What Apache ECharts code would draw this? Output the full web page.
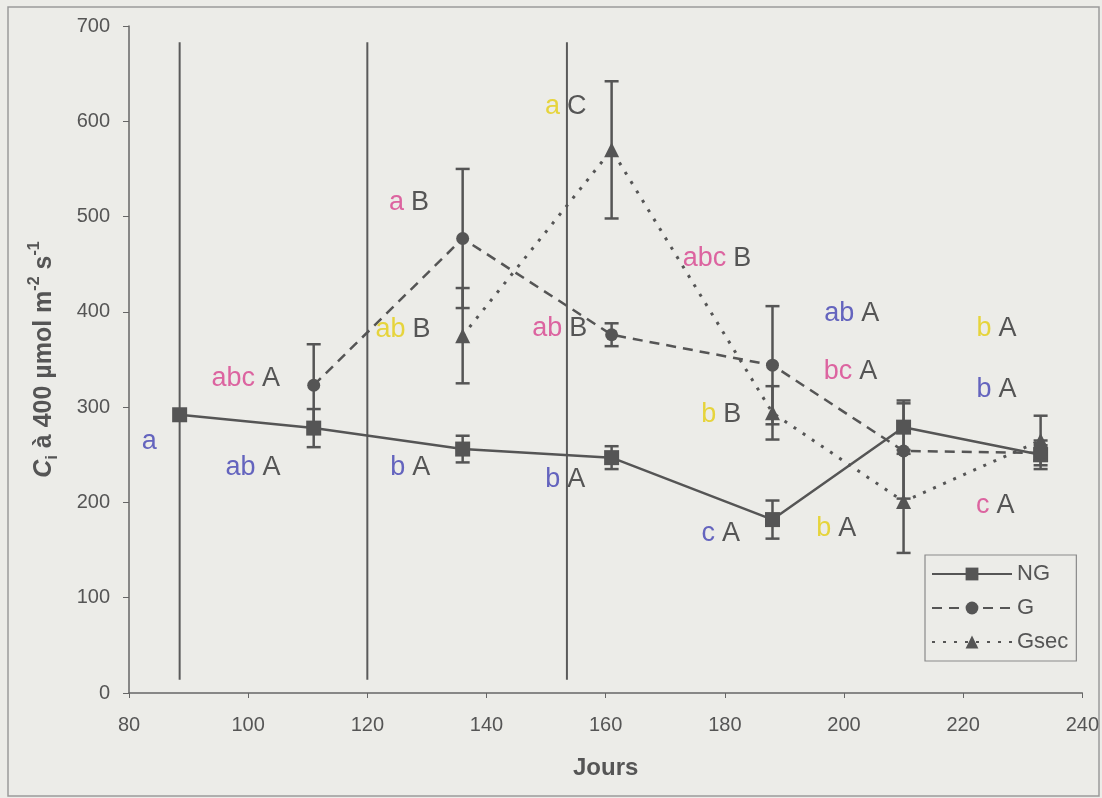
<!DOCTYPE html>
<html><head><meta charset="utf-8">
<script src="https://cdn.jsdelivr.net/npm/echarts@6/dist/echarts.min.js"></script>
<style>html,body{margin:0;padding:0;background:#ecece8;} #c{width:1102px;height:798px;}</style>
</head><body><div id="c"></div>
<script>
// ---- data ----
const days = [88.5, 111, 136, 161, 188, 210, 233];
const ngValues = [292, 278, 256, 247, 182, 279, 250];
const ngErrors = [0, 20, 14, 12, 20, 28, 15];
const gValues = [null, 323, 477, 376, 344, 254, 252];
const gErrors = [null, 43, 73, 12, 62, 50, 8];
const gsecValues = [null, null, 375, 570, 294, 201, 265];
const gsecErrors = [null, null, 50, 72, 28, 54, 26];
const eventDays = [88.5, 120, 153.5];
const eventRange = [14, 683];
const seriesNames = ['NG', 'G', 'Gsec'];
// annotation letters: [day, value, lowercase, colour key, uppercase]
const annotDays = [84, 99.6, 100.8, 127.2, 126, 127, 153.3, 152.3, 178.7, 201.3, 201.1, 179.4, 225.6, 225.6, 225.4, 179.3, 198.7, 153.2];
const annotVals = [264, 330, 237, 237, 381, 515, 615, 383, 456, 398, 337, 292, 383, 318, 197, 167, 173, 224];
const annotLower = ['a', 'abc', 'ab', 'b', 'ab', 'a', 'a', 'ab', 'abc', 'ab', 'bc', 'b', 'b', 'b', 'c', 'c', 'b', 'b'];
const annotColor = ['bl', 'pk', 'bl', 'bl', 'ye', 'pk', 'ye', 'pk', 'pk', 'bl', 'pk', 'ye', 'ye', 'bl', 'pk', 'bl', 'ye', 'bl'];
const annotUpper = ['', 'A', 'A', 'A', 'B', 'B', 'C', 'B', 'B', 'A', 'A', 'B', 'A', 'A', 'A', 'A', 'A', 'A'];

// ---- build ----
const FONT = '"Liberation Sans", Arial, sans-serif';
const INK = '#555555';
function pairs(vals) {
  const out = [];
  vals.forEach((v, i) => { if (v !== null) out.push([days[i], v]); });
  return out;
}
function errData(vals, errs) {
  const out = [];
  vals.forEach((v, i) => { if (v !== null && errs[i]) out.push([days[i], v - errs[i], v + errs[i]]); });
  return out;
}
const allErr = [].concat(errData(ngValues, ngErrors), errData(gValues, gErrors), errData(gsecValues, gsecErrors));

function errRender(params, api) {
  const x = api.value(0);
  const lo = api.coord([x, api.value(1)]);
  const hi = api.coord([x, api.value(2)]);
  const w = 7;
  const st = { stroke: INK, lineWidth: 2.5 };
  return { type: 'group', children: [
    { type: 'line', shape: { x1: lo[0], y1: lo[1], x2: hi[0], y2: hi[1] }, style: st },
    { type: 'line', shape: { x1: lo[0] - w, y1: lo[1], x2: lo[0] + w, y2: lo[1] }, style: st },
    { type: 'line', shape: { x1: hi[0] - w, y1: hi[1], x2: hi[0] + w, y2: hi[1] }, style: st }
  ]};
}
function eventRender(params, api) {
  const x = api.value(0);
  const lo = api.coord([x, api.value(1)]);
  const hi = api.coord([x, api.value(2)]);
  return { type: 'line', shape: { x1: lo[0], y1: lo[1], x2: hi[0], y2: hi[1] }, style: { stroke: '#5a5a5a', lineWidth: 2 } };
}

const annotData = annotDays.map((d, i) => ({ value: [d, annotVals[i]], lo: annotLower[i], ck: annotColor[i], up: annotUpper[i] }));
const LFS = 27;

const chart = echarts.init(document.getElementById('c'), null, { renderer: 'canvas' });
chart.setOption({
  backgroundColor: '#ecece8',
  animation: false,
  textStyle: { fontFamily: FONT },
  graphic: [{ type: 'rect', shape: { x: 8, y: 7, width: 1091, height: 789 }, style: { fill: 'none', stroke: '#9a9a9a', lineWidth: 1.5 }, silent: true }],
  grid: { left: 129, right: 19, top: 26, bottom: 105, containLabel: false },
  legend: {
    data: seriesNames, orient: 'vertical', left: 925, top: 555,
    itemWidth: 80, itemHeight: 16, itemGap: 12,
    borderColor: '#8a8a8a', borderWidth: 1.2, padding: [8, 8, 8, 6], borderRadius: 0,
    textStyle: { fontSize: 22, color: INK, fontFamily: FONT }
  },
  xAxis: {
    type: 'value', min: 80, max: 240, interval: 20,
    axisLine: { show: true, lineStyle: { color: '#666', width: 1.5 } },
    axisTick: { show: true, length: 5, lineStyle: { color: '#666' } },
    splitLine: { show: false },
    axisLabel: { fontSize: 20, color: INK, margin: 22, fontFamily: FONT },
    name: 'Jours', nameLocation: 'middle', nameGap: 63,
    nameTextStyle: { fontSize: 24, fontWeight: 'bold', color: INK, fontFamily: FONT }
  },
  yAxis: {
    type: 'value', min: 0, max: 700, interval: 100,
    axisLine: { show: true, lineStyle: { color: '#666', width: 1.5 } },
    axisTick: { show: true, length: 6, lineStyle: { color: '#666' } },
    splitLine: { show: false },
    axisLabel: { fontSize: 20, color: INK, margin: 19, fontFamily: FONT },
    name: '{ci|C}{sub|i}{n| à 400 µmol m}{sup|-2}{n| s}{sup|-1}',
    nameLocation: 'middle', nameRotate: 90, nameGap: 68,
    nameTextStyle: {
      color: INK, fontFamily: FONT,
      rich: {
        ci: { fontSize: 25, fontWeight: 'bold', fontStyle: 'italic', color: INK, lineHeight: 34, verticalAlign: 'middle' },
        n: { fontSize: 25, fontWeight: 'bold', color: INK, lineHeight: 34, verticalAlign: 'middle' },
        sup: { fontSize: 16, fontWeight: 'bold', color: INK, lineHeight: 16, verticalAlign: 'top' },
        sub: { fontSize: 16, fontWeight: 'bold', color: INK, lineHeight: 16, verticalAlign: 'bottom' }
      }
    }
  },
  series: [
    { type: 'custom', name: 'events', renderItem: eventRender, data: eventDays.map(d => [d, eventRange[0], eventRange[1]]), z: 1, silent: true },
    { type: 'custom', name: 'errors', renderItem: errRender, data: allErr, z: 2, silent: true },
    { type: 'line', name: 'NG', data: pairs(ngValues), symbol: 'rect', symbolSize: 15,
      lineStyle: { color: INK, width: 2.5, type: 'solid' }, itemStyle: { color: INK }, z: 3 },
    { type: 'line', name: 'G', data: pairs(gValues), symbol: 'circle', symbolSize: 13,
      lineStyle: { color: INK, width: 2.5, type: [10, 7] }, itemStyle: { color: INK }, z: 3 },
    { type: 'line', name: 'Gsec', data: pairs(gsecValues), symbol: 'triangle', symbolSize: 15,
      lineStyle: { color: INK, width: 3, type: [3, 8] }, itemStyle: { color: INK }, z: 3 },
    { type: 'scatter', name: 'letters', data: annotData, symbolSize: 1, itemStyle: { color: 'rgba(0,0,0,0)' }, z: 4, silent: true,
      label: {
        show: true, position: 'inside', opacity: 1,
        formatter: p => '{' + p.data.ck + '|' + p.data.lo + '}' + (p.data.up ? '{up|' + p.data.up + '}' : ''),
        rich: {
          bl: { fontSize: LFS, color: '#6464be', fontFamily: FONT, padding: [0, 7, 0, 0] },
          pk: { fontSize: LFS, color: '#dc64a0', fontFamily: FONT, padding: [0, 7, 0, 0] },
          ye: { fontSize: LFS, color: '#e6d43c', fontFamily: FONT, padding: [0, 7, 0, 0] },
          up: { fontSize: LFS, color: '#555555', fontFamily: FONT }
        }
      }
    }
  ]
});
</script></body></html>
